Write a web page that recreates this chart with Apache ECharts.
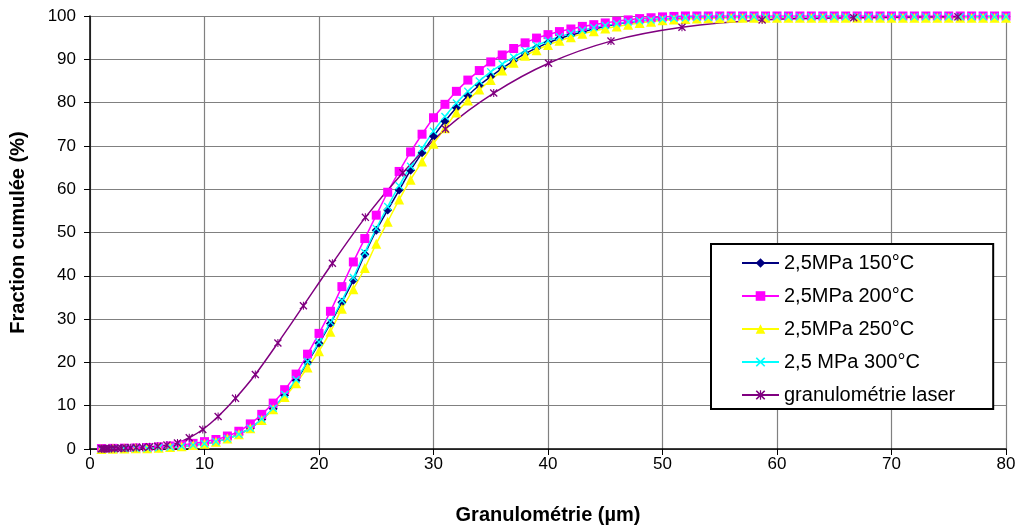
<!DOCTYPE html>
<html>
<head>
<meta charset="utf-8">
<script src="https://cdn.jsdelivr.net/npm/echarts@6/dist/echarts.min.js"></script>
<style>
html,body{margin:0;padding:0;background:#fff;}
#chart{width:1015px;height:526px;}
</style>
</head>
<body>
<div id="chart"></div>
<script>
// Granulométrie (µm) sampling for the press series
const xMP = [1,2,3,4,5,6,7,8,9,10,11,12,13,14,15,16,17,18,19,20,
  21,22,23,24,25,26,27,28,29,30,31,32,33,34,35,36,37,38,39,40,
  41,42,43,44,45,46,47,48,49,50,51,52,53,54,55,56,57,58,59,60,
  61,62,63,64,65,66,67,68,69,70,71,72,73,74,75,76,77,78,79,80];

const mpa150 = [0.0,0.05,0.1,0.15,0.2,0.3,0.45,0.65,0.9,1.2,1.7,2.4,3.4,4.8,6.8,9.3,12.4,15.8,20.0,24.4,
  29.0,33.9,39.0,45.0,50.5,55.2,59.8,64.4,68.4,72.2,75.7,78.8,81.6,84.0,86.0,87.9,89.7,91.3,92.6,93.8,
  94.8,95.6,96.3,97.0,97.6,98.1,98.5,98.8,99.1,99.3,99.4,99.5,99.6,99.6,99.7,99.7,99.7,99.7,99.7,99.7,
  99.7,99.7,99.7,99.7,99.8,99.8,99.8,99.8,99.8,99.8,99.8,99.8,99.8,99.8,99.8,99.8,99.8,99.8,99.8,99.8];

const mpa200 = [0.1,0.15,0.2,0.25,0.35,0.5,0.7,0.95,1.3,1.7,2.2,3.0,4.1,5.8,8.0,10.6,13.7,17.3,21.9,26.7,
  31.8,37.5,43.2,48.6,54.0,59.3,64.1,68.6,72.7,76.5,79.6,82.6,85.2,87.4,89.4,91.0,92.5,93.8,94.9,95.7,
  96.4,97.0,97.6,98.0,98.4,98.8,99.1,99.4,99.6,99.8,99.9,100,100,100,100,100,100,100,100,100,
  100,100,100,100,100,100,100,100,100,100,100,100,100,100,100,100,100,100,100,100];

const mpa250 = [0.0,0.05,0.1,0.15,0.2,0.3,0.45,0.65,0.9,1.2,1.7,2.4,3.4,4.8,6.7,9.2,12.0,15.2,18.8,22.6,
  27.1,32.4,36.9,41.8,47.4,52.5,57.6,62.2,66.4,70.5,74.1,77.7,80.5,83.0,85.2,87.4,89.2,90.8,92.1,93.3,
  94.3,95.1,95.9,96.5,97.1,97.6,98.0,98.4,98.7,99.0,99.2,99.3,99.4,99.5,99.5,99.6,99.6,99.6,99.6,99.6,
  99.6,99.6,99.6,99.6,99.6,99.6,99.6,99.6,99.6,99.6,99.6,99.6,99.6,99.6,99.6,99.6,99.6,99.6,99.6,99.6];

const mpa300 = [0.0,0.05,0.1,0.15,0.2,0.3,0.45,0.65,0.9,1.2,1.7,2.4,3.4,4.8,6.9,9.4,12.6,16.0,20.2,24.7,
  29.3,34.3,39.6,45.4,50.9,56.0,60.8,65.3,69.4,73.4,76.8,79.9,82.6,85.0,87.1,88.9,90.5,92.0,93.2,94.3,
  95.2,96.0,96.7,97.3,97.8,98.2,98.6,98.9,99.1,99.3,99.5,99.6,99.7,99.7,99.8,99.8,99.8,99.8,99.8,99.8,
  99.8,99.8,99.8,99.8,99.8,99.8,99.8,99.8,99.8,99.8,99.8,99.8,99.8,99.8,99.8,99.8,99.8,99.8,99.8,99.8];

// Laser granulometry (log-spaced sizes)
const xLaser = [1.0,1.13,1.28,1.46,1.65,1.88,2.13,2.42,2.75,3.13,3.55,4.04,4.59,5.21,5.92,6.72,7.64,8.67,9.85,11.19,
  12.71,14.44,16.41,18.64,21.17,24.05,27.32,31.04,35.26,40.05,45.5,51.7,58.7,66.7,75.8];
const laser = [0.05,0.06,0.07,0.08,0.1,0.12,0.14,0.17,0.2,0.24,0.29,0.35,0.42,0.52,0.65,0.9,1.4,2.6,4.5,7.5,
  11.7,17.2,24.5,33.1,42.9,53.5,63.8,73.9,82.2,89.1,94.2,97.4,99.1,99.6,99.8];

const seriesNames = ['2,5MPa 150°C','2,5MPa 200°C','2,5MPa 250°C','2,5 MPa 300°C','granulométrie laser'];
const xTicks = [0,10,20,30,40,50,60,70,80];
const yTicks = [0,10,20,30,40,50,60,70,80,90,100];

function pairs(xs, ys){ return xs.map((x,i)=>[x, ys[i]]); }

const xShape = 'path://M0,1.2 L1.2,0 L5,3.8 L8.8,0 L10,1.2 L6.2,5 L10,8.8 L8.8,10 L5,6.2 L1.2,10 L0,8.8 L3.8,5 Z';
const starShape = 'path://M0,1.2 L1.2,0 L5,3.8 L8.8,0 L10,1.2 L6.2,5 L10,8.8 L8.8,10 L5,6.2 L1.2,10 L0,8.8 L3.8,5 Z M4.35,0 L5.65,0 L5.65,10 L4.35,10 Z';

const FONT = '"Liberation Sans", Arial, sans-serif';

const chart = echarts.init(document.getElementById('chart'), null, {renderer:'canvas'});

function mkSeries(name, data, color, symbol, size){
  return {
    name: name, type:'line', data: data, smooth: 0.3,
    symbol: symbol, symbolSize: size, showSymbol: true,
    lineStyle:{color: color, width: 1.5},
    itemStyle:{color: color, borderWidth: 0},
    emphasis:{disabled:true}
  };
}

chart.setOption({
  animation:false,
  backgroundColor:'#ffffff',
  grid:{left:90, right:9, top:16, bottom:77, containLabel:false, outerBoundsMode:'none'},
  legend:{
    orient:'vertical', left:711, top:244,
    padding:[9,38,4,30], itemGap:13, itemWidth:37, itemHeight:12,
    backgroundColor:'#ffffff', borderColor:'#000000', borderWidth:2, borderRadius:0,
    textStyle:{fontFamily:FONT, fontSize:20, color:'#000', lineHeight:20},
    data: seriesNames
  },
  xAxis:{
    type:'value', min:xTicks[0], max:xTicks[xTicks.length-1], interval:10,
    name:'Granulométrie (µm)', nameLocation:'middle', nameGap:56,
    nameTextStyle:{fontFamily:FONT, fontSize:20, fontWeight:'bold', color:'#000'},
    axisLine:{show:true, onZero:false, lineStyle:{color:'#000', width:1.5}},
    axisTick:{show:true, length:6, lineStyle:{color:'#000'}},
    axisLabel:{fontFamily:FONT, fontSize:17, color:'#000', margin:7},
    splitLine:{show:true, lineStyle:{color:'#808080', width:1.2}}
  },
  yAxis:{
    type:'value', min:yTicks[0], max:yTicks[yTicks.length-1], interval:10,
    name:'Fraction cumulée (%)', nameLocation:'middle', nameGap:62,
    nameTextStyle:{fontFamily:FONT, fontSize:20, fontWeight:'bold', color:'#000'},
    axisLine:{show:true, lineStyle:{color:'#000', width:1.5}},
    axisTick:{show:true, length:6, lineStyle:{color:'#000'}},
    axisLabel:{fontFamily:FONT, fontSize:17, color:'#000', margin:14},
    splitLine:{show:true, lineStyle:{color:'#808080', width:1.2}}
  },
  series:[
    mkSeries(seriesNames[0], pairs(xMP, mpa150), '#000080', 'diamond', 9),
    mkSeries(seriesNames[1], pairs(xMP, mpa200), '#FF00FF', 'rect', 9),
    mkSeries(seriesNames[2], pairs(xMP, mpa250), '#FFFF00', 'triangle', 10),
    mkSeries(seriesNames[3], pairs(xMP, mpa300), '#00FFFF', xShape, 8),
    mkSeries(seriesNames[4], pairs(xLaser, laser), '#800080', starShape, 8)
  ]
});
</script>
</body>
</html>
